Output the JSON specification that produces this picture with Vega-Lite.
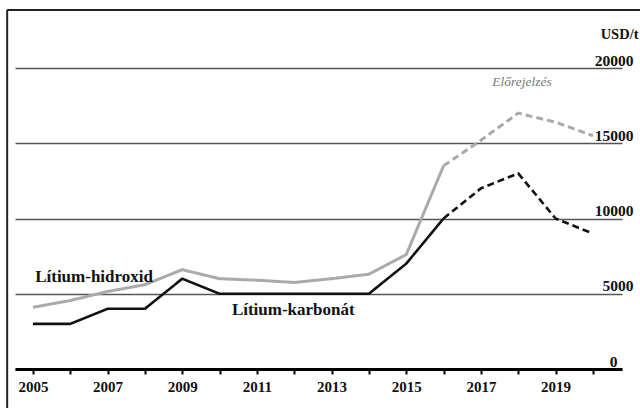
{
  "$schema": "https://vega.github.io/schema/vega-lite/v6.json",
  "autosize": {"type": "none"},
  "width": 607,
  "height": 301,
  "padding": {"left": 15, "top": 68, "right": 18, "bottom": 39},
  "background": "white",
  "config": {
    "view": {"stroke": null},
    "font": "Liberation Serif"
  },
  "datasets": {
    "prices": [
      {"year": 2005, "value": 4100, "series": "hidroxid", "phase": "tény"},
      {"year": 2006, "value": 4550, "series": "hidroxid", "phase": "tény"},
      {"year": 2007, "value": 5150, "series": "hidroxid", "phase": "tény"},
      {"year": 2008, "value": 5600, "series": "hidroxid", "phase": "tény"},
      {"year": 2009, "value": 6600, "series": "hidroxid", "phase": "tény"},
      {"year": 2010, "value": 6000, "series": "hidroxid", "phase": "tény"},
      {"year": 2011, "value": 5900, "series": "hidroxid", "phase": "tény"},
      {"year": 2012, "value": 5750, "series": "hidroxid", "phase": "tény"},
      {"year": 2013, "value": 6000, "series": "hidroxid", "phase": "tény"},
      {"year": 2014, "value": 6300, "series": "hidroxid", "phase": "tény"},
      {"year": 2015, "value": 7600, "series": "hidroxid", "phase": "tény"},
      {"year": 2016, "value": 13500, "series": "hidroxid", "phase": "tény"},
      {"year": 2016, "value": 13500, "series": "hidroxid", "phase": "előrejelzés"},
      {"year": 2017, "value": 15200, "series": "hidroxid", "phase": "előrejelzés"},
      {"year": 2018, "value": 17000, "series": "hidroxid", "phase": "előrejelzés"},
      {"year": 2019, "value": 16400, "series": "hidroxid", "phase": "előrejelzés"},
      {"year": 2020, "value": 15500, "series": "hidroxid", "phase": "előrejelzés"},
      {"year": 2005, "value": 3000, "series": "karbonát", "phase": "tény"},
      {"year": 2006, "value": 3000, "series": "karbonát", "phase": "tény"},
      {"year": 2007, "value": 4000, "series": "karbonát", "phase": "tény"},
      {"year": 2008, "value": 4000, "series": "karbonát", "phase": "tény"},
      {"year": 2009, "value": 6000, "series": "karbonát", "phase": "tény"},
      {"year": 2010, "value": 5000, "series": "karbonát", "phase": "tény"},
      {"year": 2011, "value": 5000, "series": "karbonát", "phase": "tény"},
      {"year": 2012, "value": 5000, "series": "karbonát", "phase": "tény"},
      {"year": 2013, "value": 5000, "series": "karbonát", "phase": "tény"},
      {"year": 2014, "value": 5000, "series": "karbonát", "phase": "tény"},
      {"year": 2015, "value": 7000, "series": "karbonát", "phase": "tény"},
      {"year": 2016, "value": 10000, "series": "karbonát", "phase": "tény"},
      {"year": 2016, "value": 10000, "series": "karbonát", "phase": "előrejelzés"},
      {"year": 2017, "value": 12000, "series": "karbonát", "phase": "előrejelzés"},
      {"year": 2018, "value": 13000, "series": "karbonát", "phase": "előrejelzés"},
      {"year": 2019, "value": 10000, "series": "karbonát", "phase": "előrejelzés"},
      {"year": 2020, "value": 9000, "series": "karbonát", "phase": "előrejelzés"}
    ],
    "labels": [
      {"year": 2005.06, "value": 5780, "text": "Lítium-hidroxid"},
      {"year": 2010.33, "value": 3590, "text": "Lítium-karbonát"}
    ],
    "note": [
      {"year": 2018.1, "value": 18800, "text": "Előrejelzés"}
    ]
  },
  "layer": [
    {
      "data": {"name": "prices"},
      "mark": {"type": "line", "strokeJoin": "miter"},
      "encoding": {
        "x": {
          "field": "year", "type": "quantitative",
          "scale": {"domain": [2004.52, 2020.78], "nice": false, "zero": false},
          "axis": {
            "title": null,
            "values": [2005, 2006, 2007, 2008, 2009, 2010, 2011, 2012, 2013, 2014, 2015, 2016, 2017, 2018, 2019, 2020],
            "format": "d",
            "labelExpr": "datum.value % 2 == 1 ? datum.label : ''",
            "grid": false,
            "domainColor": "black",
            "domainWidth": 3,
            "tickColor": "black",
            "tickWidth": 2,
            "tickSize": 5,
            "labelPadding": 5,
            "labelFont": "Liberation Serif",
            "labelFontSize": 15,
            "labelFontWeight": "bold",
            "labelColor": "#111",
            "labelFlush": false,
            "labelOverlap": false
          }
        },
        "y": {
          "field": "value", "type": "quantitative",
          "scale": {"domain": [0, 20000], "nice": false},
          "axis": {
            "orient": "right",
            "title": "USD/t",
            "titleAngle": 0,
            "titleAlign": "right",
            "titleBaseline": "alphabetic",
            "titleX": 16,
            "titleY": -30,
            "titleFont": "Liberation Serif",
            "titleFontSize": 14.5,
            "titleFontWeight": "bold",
            "titleColor": "#111",
            "values": [0, 5000, 10000, 15000, 20000],
            "format": "d",
            "domain": false,
            "ticks": false,
            "grid": true,
            "gridColor": "#555",
            "gridWidth": 1.5,
            "labelAlign": "right",
            "labelBaseline": "alphabetic",
            "labelOffset": -3,
            "labelPadding": {"condition": {"test": "datum.value == 0", "value": -5}, "value": 11},
            "labelFont": "Liberation Serif",
            "labelFontSize": 15.5,
            "labelFontWeight": "bold",
            "labelColor": "#111"
          }
        },
        "color": {
          "field": "series", "type": "nominal",
          "scale": {"domain": ["hidroxid", "karbonát"], "range": ["#aaaaaa", "#111111"]},
          "legend": null
        },
        "strokeDash": {
          "field": "phase", "type": "nominal",
          "scale": {"domain": ["tény", "előrejelzés"], "range": [[1, 0], [7, 4]]},
          "legend": null
        },
        "strokeWidth": {
          "field": "series", "type": "nominal",
          "scale": {"domain": ["hidroxid", "karbonát"], "range": [3, 2.6]},
          "legend": null
        }
      }
    },
    {
      "data": {"name": "labels"},
      "mark": {"type": "text", "align": "left", "baseline": "alphabetic", "font": "Liberation Serif", "fontSize": 17, "fontWeight": "bold", "color": "#111"},
      "encoding": {
        "x": {"field": "year", "type": "quantitative"},
        "y": {"field": "value", "type": "quantitative"},
        "text": {"field": "text"}
      }
    },
    {
      "data": {"name": "note"},
      "mark": {"type": "text", "align": "center", "baseline": "alphabetic", "font": "Liberation Serif", "fontSize": 13.5, "fontStyle": "italic", "color": "#777"},
      "encoding": {
        "x": {"field": "year", "type": "quantitative"},
        "y": {"field": "value", "type": "quantitative"},
        "text": {"field": "text"}
      }
    },
    {
      "data": {"values": [{"x": 2004.31, "y": -2600, "y2": 23860}]},
      "mark": {"type": "rule", "color": "#222", "strokeWidth": 2},
      "encoding": {
        "x": {"field": "x", "type": "quantitative"},
        "y": {"field": "y", "type": "quantitative"},
        "y2": {"field": "y2"}
      }
    },
    {
      "data": {"values": [{"x": 2004.31, "x2": 2021.3, "y": 23860}]},
      "mark": {"type": "rule", "color": "#222", "strokeWidth": 2},
      "encoding": {
        "x": {"field": "x", "type": "quantitative"},
        "x2": {"field": "x2"},
        "y": {"field": "y", "type": "quantitative"}
      }
    }
  ]
}
